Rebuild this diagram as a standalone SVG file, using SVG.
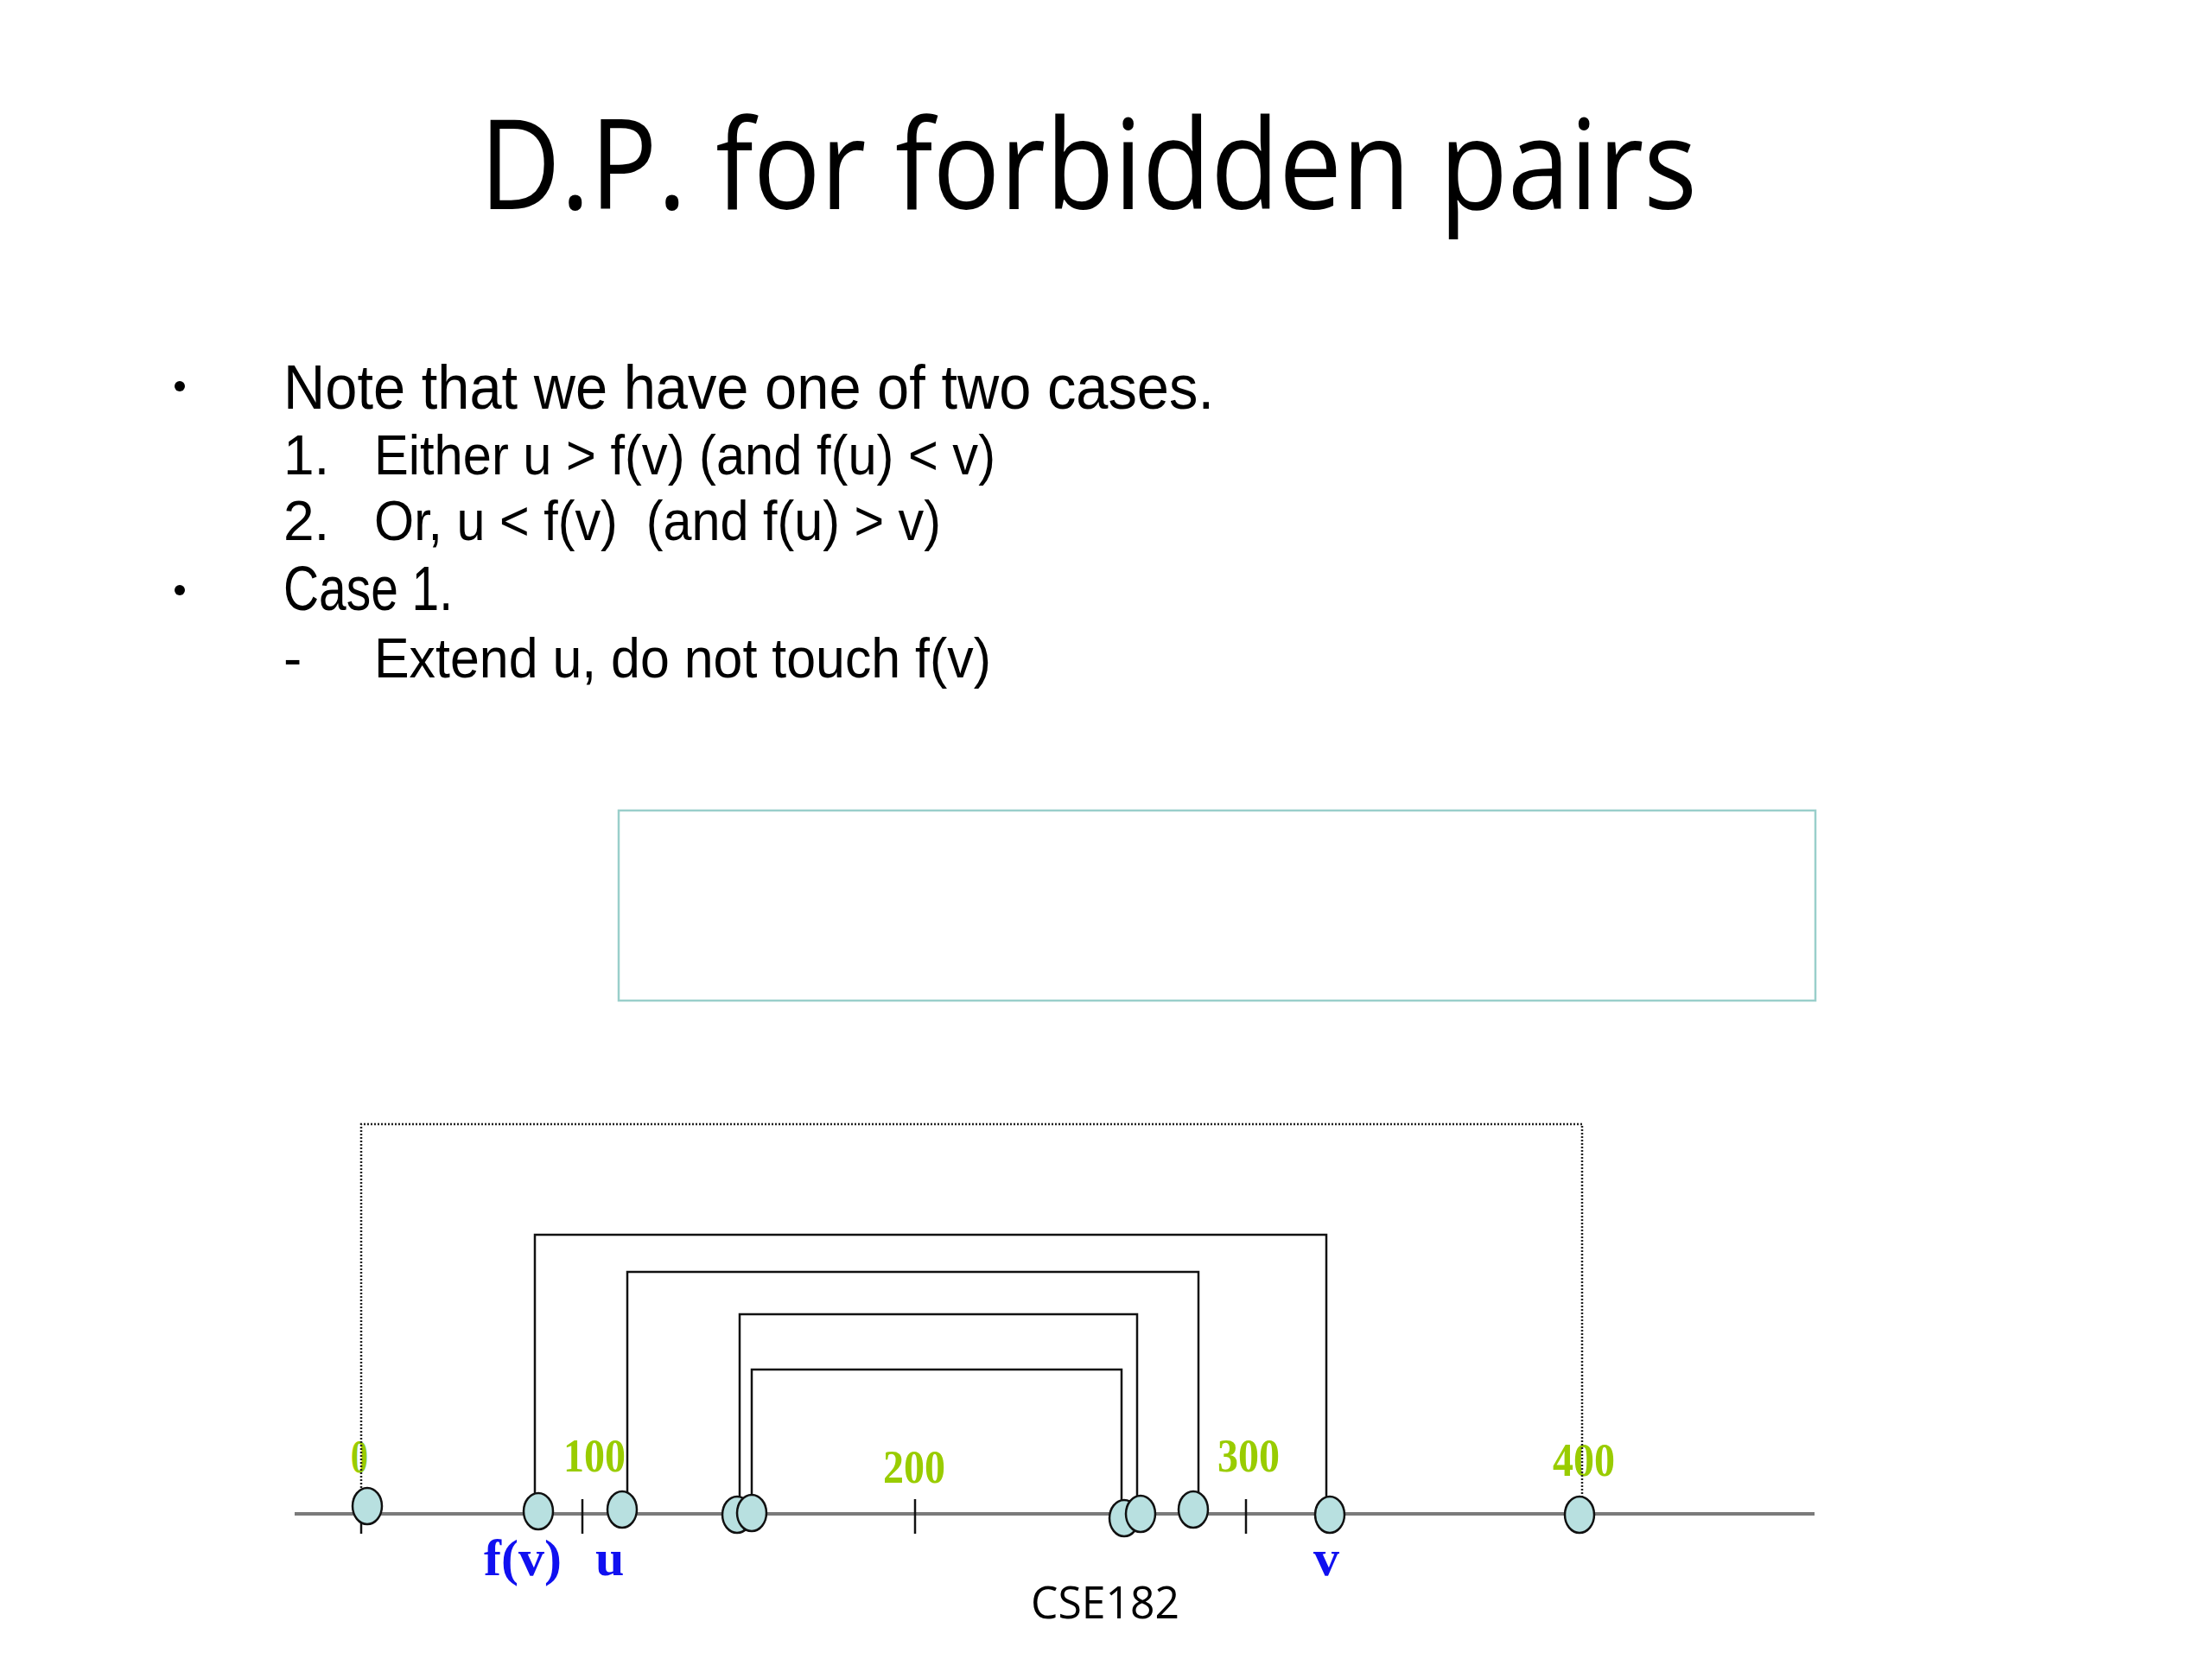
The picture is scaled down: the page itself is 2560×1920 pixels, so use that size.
<svg xmlns="http://www.w3.org/2000/svg" width="2560" height="1920" viewBox="0 0 2560 1920">
<style>
.t{font-family:"Open Sans","DejaVu Sans",sans-serif;fill:#000;white-space:pre}
.b{font-family:"Liberation Sans",Arial,sans-serif;fill:#000;white-space:pre}
.num{font-family:"Liberation Serif","Times New Roman",serif;font-weight:bold;font-size:54px;fill:#99CC00;text-anchor:middle}
.lbl{font-family:"Liberation Serif","Times New Roman",serif;font-weight:bold;font-size:60px;fill:#1010F0}
.pt{fill:#B8E0E0;stroke:#111;stroke-width:2.5}
.br{fill:none;stroke:#111;stroke-width:2.5}
.tk{stroke:#111;stroke-width:2.5}
</style>
<rect width="2560" height="1920" fill="#fff"/>
<g id="title">
<text class="t" x="555" y="242" font-size="144" textLength="1409" lengthAdjust="spacingAndGlyphs">D.P. for forbidden pairs</text>
</g>
<g id="body">
<circle cx="208" cy="447" r="6" fill="#000"/>
<text class="b" x="328" y="473" font-size="72" textLength="1077" lengthAdjust="spacingAndGlyphs">Note that we have one of two cases.</text>
<text class="b" x="328" y="549" font-size="64">1.</text>
<text class="b" x="433" y="549" font-size="64" textLength="719" lengthAdjust="spacingAndGlyphs">Either u &gt; f(v) (and f(u) &lt; v)</text>
<text class="b" x="328" y="625" font-size="64">2.</text>
<text class="b" x="433" y="625" font-size="64" textLength="656" lengthAdjust="spacingAndGlyphs">Or, u &lt; f(v)  (and f(u) &gt; v)</text>
<circle cx="208" cy="683" r="6" fill="#000"/>
<text class="b" x="328" y="706" font-size="72" textLength="196" lengthAdjust="spacingAndGlyphs">Case 1.</text>
<text class="b" x="328" y="784" font-size="64">-</text>
<text class="b" x="433" y="784" font-size="64" textLength="714" lengthAdjust="spacingAndGlyphs">Extend u, do not touch f(v)</text>
</g>
<g id="box">
<rect x="716" y="938" width="1385" height="220" fill="none" stroke="#9ACFCB" stroke-width="2.5"/>
</g>
<g id="axis">
<line x1="341" y1="1752" x2="2100" y2="1752" stroke="#7a7a7a" stroke-width="4"/>
<line class="tk" x1="418" y1="1752" x2="418" y2="1775"/>
<line class="tk" x1="674" y1="1735" x2="674" y2="1775"/>
<line class="tk" x1="1059" y1="1735" x2="1059" y2="1775"/>
<line class="tk" x1="1442" y1="1735" x2="1442" y2="1775"/>
<text class="num" x="416" y="1704" textLength="20" lengthAdjust="spacingAndGlyphs">0</text>
<text class="num" x="688" y="1703" textLength="72" lengthAdjust="spacingAndGlyphs">100</text>
<text class="num" x="1058" y="1716" textLength="72" lengthAdjust="spacingAndGlyphs">200</text>
<text class="num" x="1445" y="1703" textLength="72" lengthAdjust="spacingAndGlyphs">300</text>
<text class="num" x="1833" y="1708" textLength="72" lengthAdjust="spacingAndGlyphs">400</text>
</g>
<g id="connectors">
<path d="M418,1730 V1301 H1831 V1740" fill="none" stroke="#222" stroke-width="2.5" stroke-dasharray="2,2"/>
<path class="br" d="M619,1740 V1429 H1535 V1740"/>
<path class="br" d="M726,1740 V1472 H1387 V1740"/>
<path class="br" d="M856,1740 V1521 H1316 V1740"/>
<path class="br" d="M870,1740 V1585 H1298 V1745"/>
</g>
<g id="node-0"><ellipse class="pt" cx="425" cy="1743" rx="17" ry="21"/></g>
<g id="node-fv"><ellipse class="pt" cx="623" cy="1749" rx="17" ry="21"/><text class="lbl" x="560" y="1823">f(v)</text></g>
<g id="node-u"><ellipse class="pt" cx="720" cy="1747" rx="17" ry="21"/><text class="lbl" x="689" y="1823">u</text></g>
<g id="node-a1"><ellipse class="pt" cx="853" cy="1753" rx="17" ry="21"/></g>
<g id="node-a2"><ellipse class="pt" cx="870" cy="1751" rx="17" ry="21"/></g>
<g id="node-b1"><ellipse class="pt" cx="1301" cy="1757" rx="17" ry="21"/></g>
<g id="node-b2"><ellipse class="pt" cx="1320" cy="1752" rx="17" ry="21"/></g>
<g id="node-fu"><ellipse class="pt" cx="1381" cy="1747" rx="17" ry="21"/></g>
<g id="node-v"><ellipse class="pt" cx="1539" cy="1753" rx="17" ry="21"/><text class="lbl" x="1535" y="1823" text-anchor="middle">v</text></g>
<g id="node-400"><ellipse class="pt" cx="1828" cy="1753" rx="17" ry="21"/></g>
<g id="footer">
<text class="t" x="1193" y="1873" font-size="52" textLength="172" lengthAdjust="spacingAndGlyphs">CSE182</text>
</g>
</svg>
